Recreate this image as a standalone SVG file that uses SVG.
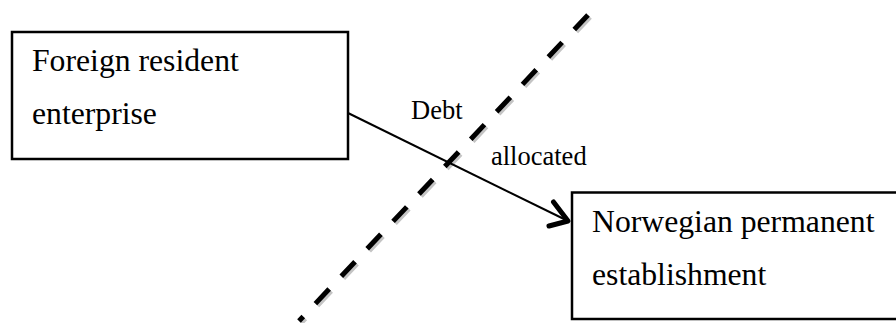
<svg xmlns="http://www.w3.org/2000/svg" width="896" height="323" viewBox="0 0 896 323">
<style>
.box{fill:#fff;stroke:#000;stroke-width:2.5}
.t{font-family:"Liberation Serif","Times New Roman",serif;font-size:31.7px;fill:#000}
.lbl{font-family:"Liberation Serif","Times New Roman",serif;font-size:26.5px;fill:#000}
.conn{stroke:#000;stroke-width:2;fill:none}
.head{stroke:#000;stroke-width:5;fill:none;stroke-linecap:round;stroke-linejoin:round}
.dash{stroke:#000;stroke-width:5;fill:none;stroke-dasharray:20 17.7}
.shadow{stroke:#c4c4c4;stroke-width:5;fill:none;stroke-dasharray:20 17.7}
</style>
<rect width="896" height="323" fill="#fff"/>
<g id="node-foreign">
<rect class="box" x="12" y="32" width="336" height="127"/>
<text class="t" x="32" y="71">Foreign resident</text>
<text class="t" x="32" y="124">enterprise</text>
</g>
<g id="node-norwegian">
<rect class="box" x="572" y="192.5" width="330" height="126.5"/>
<text class="t" x="592" y="232">Norwegian permanent</text>
<text class="t" x="592" y="285">establishment</text>
</g>
<g id="connectors">
<line class="shadow" x1="590" y1="17" x2="301" y2="323"/>
<line class="dash" x1="588" y1="15" x2="299" y2="321"/>
<line class="conn" x1="348" y1="113" x2="567" y2="220.5"/>
<polyline class="head" points="553.5,202 568,221 549,226"/>
<text class="lbl" x="411" y="119">Debt</text>
<text class="lbl" x="491" y="165">allocated</text>
</g>
</svg>
